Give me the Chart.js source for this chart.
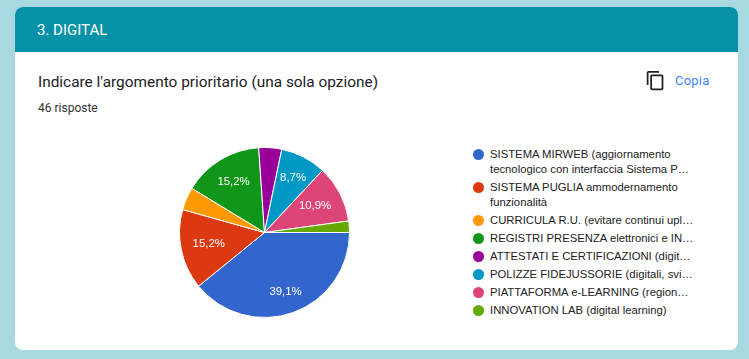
<!DOCTYPE html>
<html lang="it">
<head>
<meta charset="utf-8">
<title>3. DIGITAL</title>
<script src="https://cdn.jsdelivr.net/npm/chart.js@4"></script>
<style>
  html, body { margin: 0; padding: 0; }
  body { width: 749px; height: 359px; background: #a8d8e0; overflow: hidden; position: relative; font-family: Roboto, sans-serif; }
  #card { position: absolute; left: 15px; top: 7px; width: 723px; height: 343px; background: #fff; border-radius: 8px; overflow: hidden; }
  #header { position: absolute; left: 0; top: 0; width: 100%; height: 45px; background: #0592a9; color: #fff; font-size: 15px; line-height: 46px; text-indent: 22px; }
  #title { position: absolute; left: 23px; top: 65px; font-size: 15.4px; line-height: 20px; color: #202124; }
  #count { position: absolute; left: 23px; top: 94px; font-size: 12px; line-height: 15px; color: #333; }
  #copy-icon { position: absolute; left: 630px; top: 63px; }
  #copy { position: absolute; left: 660px; top: 65px; font-size: 13px; line-height: 18px; color: #4285f4; letter-spacing: 0.2px; }
  #pie { position: absolute; left: 150px; top: 126px; }
  #legend { position: absolute; left: 458px; top: 140px; margin: 0; padding: 0; list-style: none; font-family: "Liberation Sans", Arial, sans-serif; font-size: 11.3px; line-height: 15px; color: #222; }
  #legend li { position: relative; padding-left: 17px; margin-bottom: 3px; white-space: nowrap; }
  #legend i { position: absolute; left: 0; top: 2px; width: 11px; height: 11px; border-radius: 50%; }
</style>
</head>
<body>
<div id="card">
  <div id="header">3. DIGITAL</div>
  <div id="title">Indicare l'argomento prioritario (una sola opzione)</div>
  <div id="count">46 risposte</div>
  <svg id="copy-icon" width="21" height="21" viewBox="0 0 24 24"><path fill="#202124" d="M16 1H4c-1.1 0-2 .9-2 2v14h2V3h12V1zm3 4H8c-1.1 0-2 .9-2 2v14c0 1.1.9 2 2 2h11c1.1 0 2-.9 2-2V7c0-1.1-.9-2-2-2zm0 16H8V7h11v14z"/></svg>
  <div id="copy">Copia</div>
  <canvas id="pie" width="230" height="200"></canvas>
  <ul id="legend"></ul>
</div>
<script>
const categories = [
  "SISTEMA MIRWEB (aggiornamento\ntecnologico con interfaccia Sistema P…",
  "SISTEMA PUGLIA ammodernamento\nfunzionalità",
  "CURRICULA R.U. (evitare continui upl…",
  "REGISTRI PRESENZA elettronici e IN…",
  "ATTESTATI E CERTIFICAZIONI (digit…",
  "POLIZZE FIDEJUSSORIE (digitali, svi…",
  "PIATTAFORMA e-LEARNING (region…",
  "INNOVATION LAB (digital learning)",
];
const responses = [18, 7, 2, 7, 2, 4, 5, 1];
const colors = ["#3366cc", "#dc3912", "#ff9900", "#109618", "#990099", "#0099c6", "#dd4477", "#66aa00"];
const total = responses.reduce((a, b) => a + b, 0);

// how far out each label sits, as a share of the radius
const labelDistance = [0.74, 0.67, 0, 0.7, 0, 0.73, 0.67, 0];

// html legend, the wrapped lines don't work well in the canvas one
const legend = document.getElementById("legend");
categories.forEach((name, i) => {
  const li = document.createElement("li");
  const dot = document.createElement("i");
  dot.style.background = colors[i];
  li.appendChild(dot);
  name.split("\n").forEach((line, n) => {
    if (n > 0) li.appendChild(document.createElement("br"));
    li.appendChild(document.createTextNode(line));
  });
  legend.appendChild(li);
});

// percent labels on the slices, small slices get none
const sliceLabels = {
  id: "sliceLabels",
  afterDatasetsDraw(chart) {
    const ctx = chart.ctx;
    ctx.save();
    ctx.font = '11.4px "Liberation Sans", Arial, sans-serif';
    ctx.fillStyle = "#fff";
    ctx.textAlign = "center";
    ctx.textBaseline = "middle";
    chart.getDatasetMeta(0).data.forEach((arc, i) => {
      const share = (responses[i] / total) * 100;
      if (share < 5) return;
      const mid = (arc.startAngle + arc.endAngle) / 2;
      const r = arc.outerRadius * labelDistance[i];
      const text = share.toFixed(1).replace(".", ",") + "%";
      ctx.fillText(text, arc.x + Math.cos(mid) * r, arc.y + Math.sin(mid) * r);
    });
    ctx.restore();
  },
};

new Chart(document.getElementById("pie"), {
  type: "pie",
  data: {
    labels: categories,
    datasets: [
      {
        data: responses,
        backgroundColor: colors,
        borderColor: "#fff",
        borderWidth: 1,
      },
    ],
  },
  options: {
    responsive: false,
    animation: false,
    rotation: 90,
    layout: { padding: { left: 14, right: 45, top: 14, bottom: 15 } },
    plugins: {
      legend: { display: false },
      tooltip: { enabled: false },
    },
  },
  plugins: [sliceLabels],
});
</script>
</body>
</html>
